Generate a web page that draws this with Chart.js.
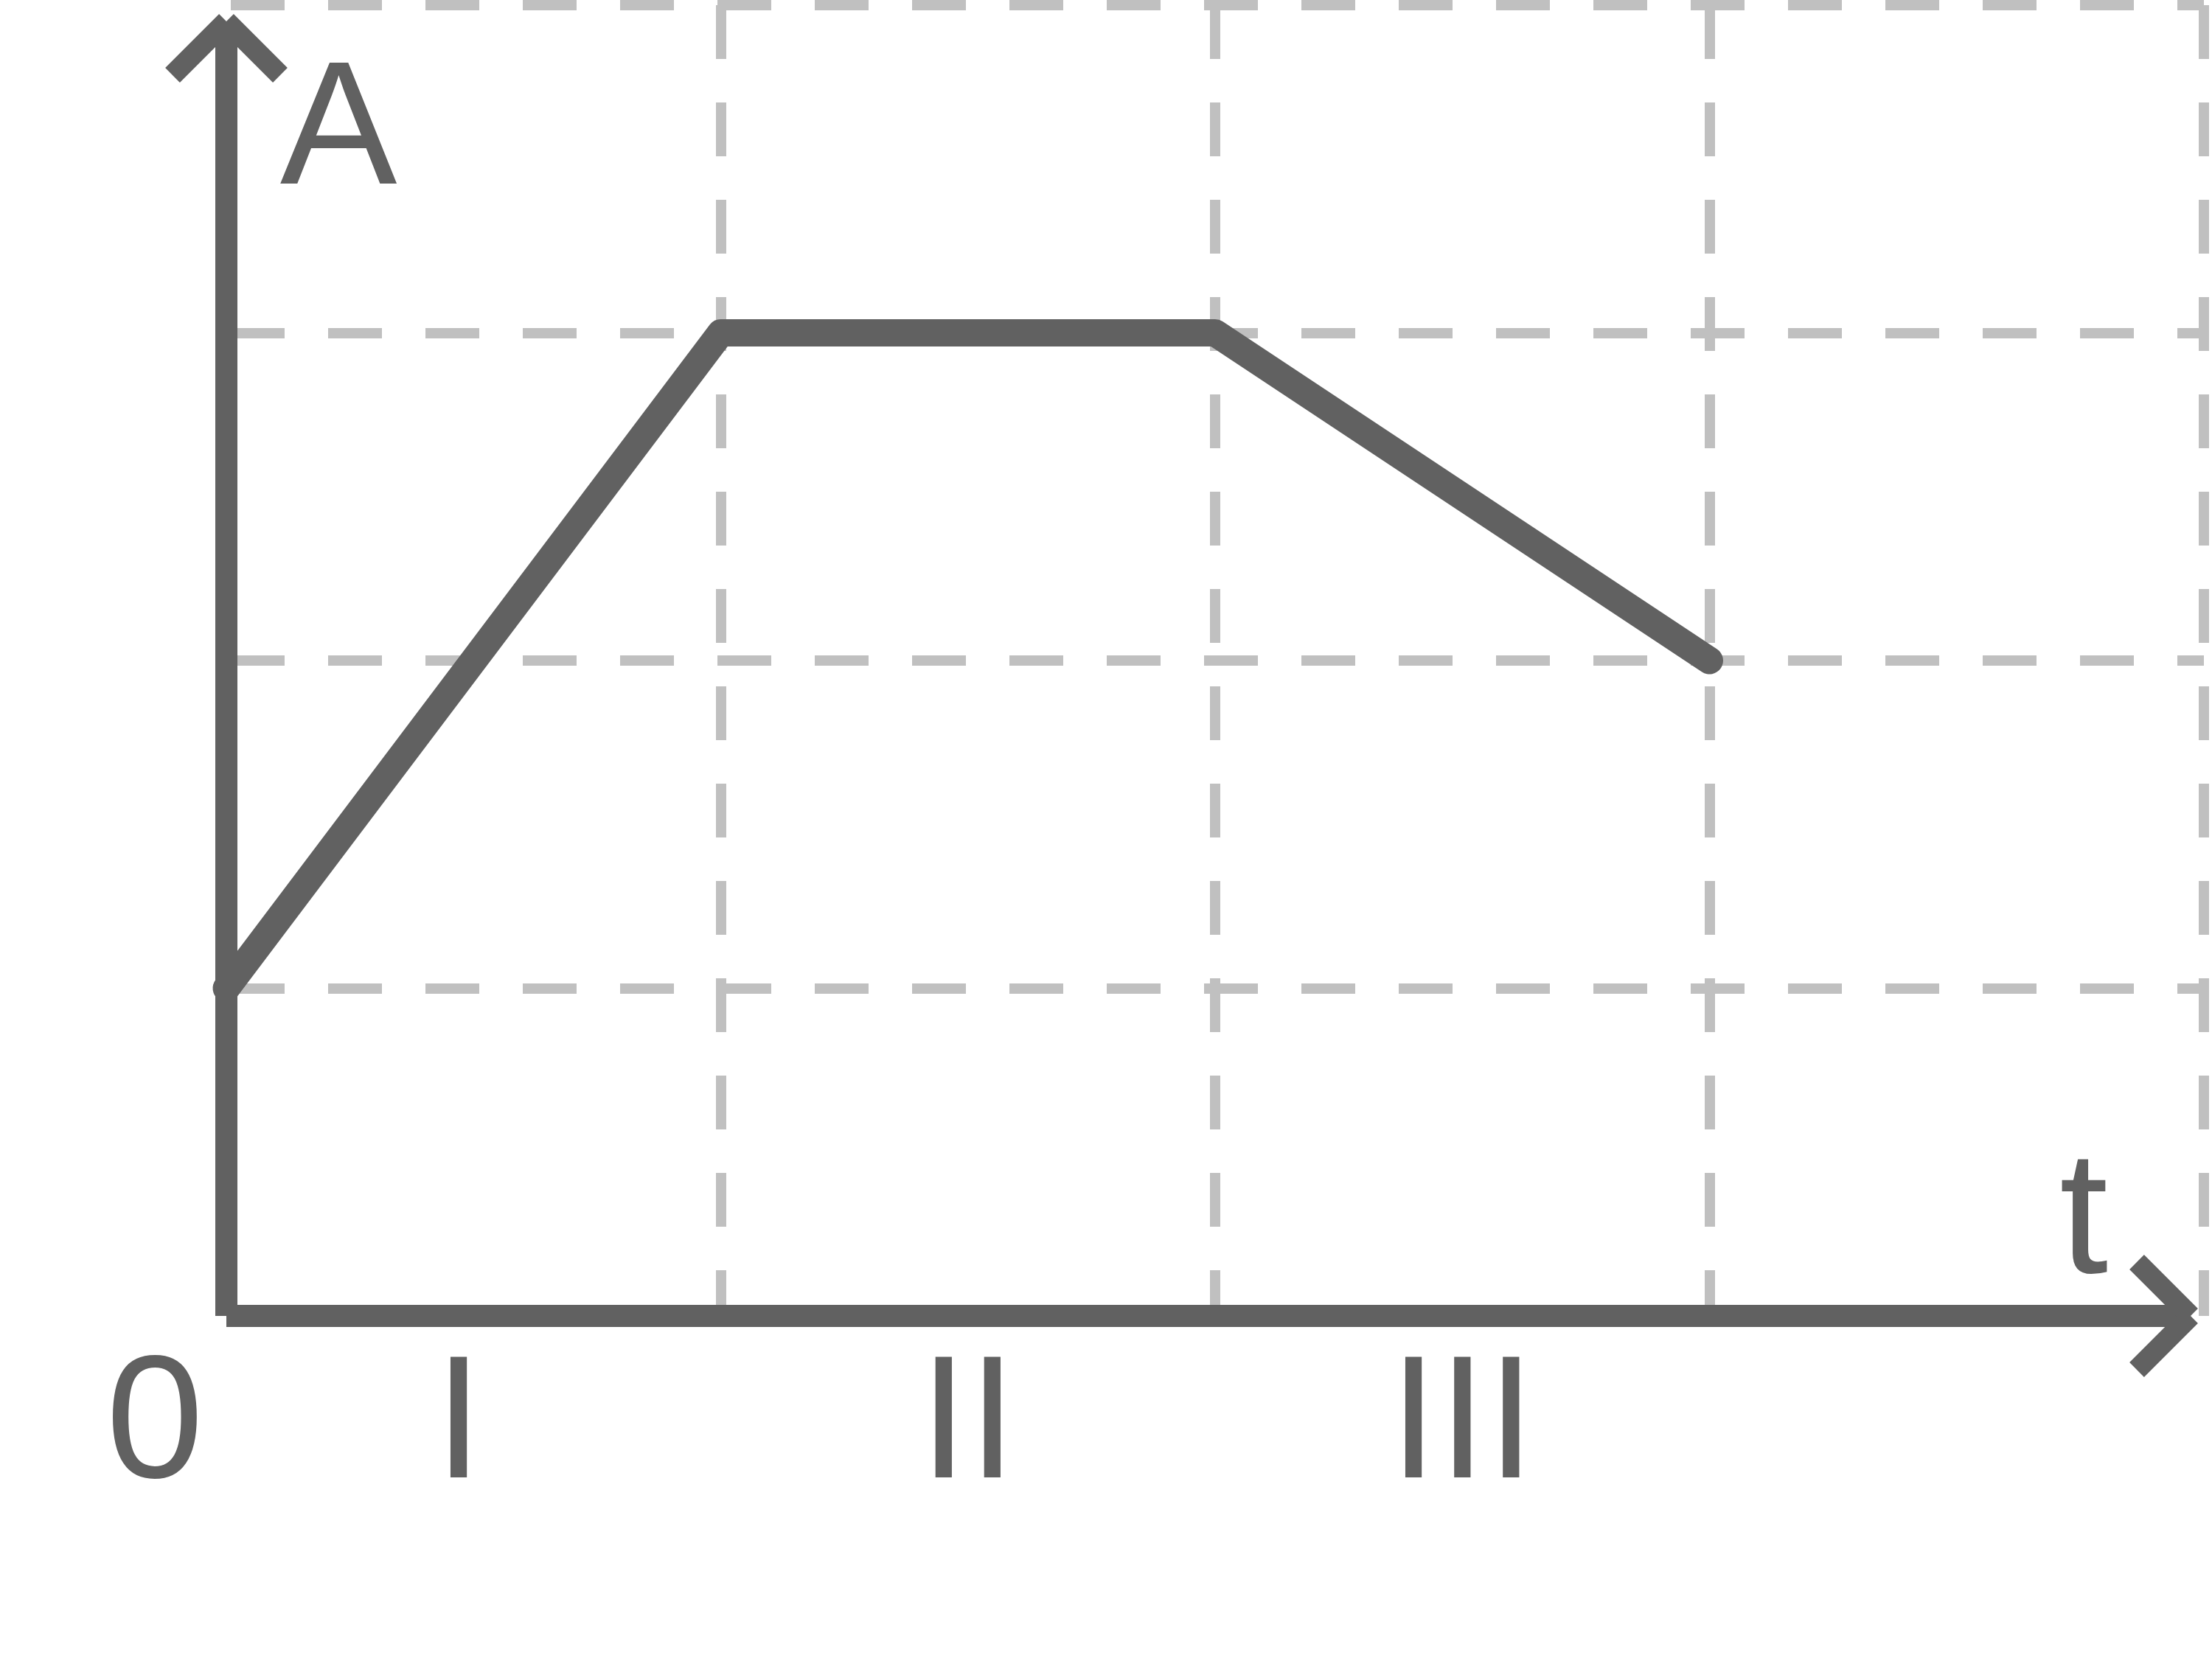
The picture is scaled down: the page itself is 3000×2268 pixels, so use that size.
<!DOCTYPE html>
<html>
<head>
<meta charset="utf-8">
<script src="https://cdn.jsdelivr.net/npm/chart.js@4/dist/chart.umd.min.js"></script>
<style>
  html, body { margin: 0; padding: 0; background: #ffffff; }
  #wrap { width: 3000px; height: 2268px; position: relative; }
</style>
</head>
<body>
<div id="wrap"><canvas id="chart"></canvas></div>
<script>
// data
var tValues = [0, 1, 2, 3];
var aValues = [1, 3, 3, 2];
var stageLabels = ["I", "II", "III"];
var stageCenters = [0.47, 1.5, 2.5];
var xTicks = [0, 1, 2, 3, 4];
var yTicks = [0, 1, 2, 3, 4];

var gris = "#616161";
var grisClaro = "#c0c0c0";
var fuente = "238px 'Liberation Sans', Arial, sans-serif";

// ejes con flechas y textos
var ejes = {
	id: "ejes",
	afterDatasetsDraw: function(chart){
		var c = chart.ctx;
		var sx = chart.scales.x, sy = chart.scales.y;
		var x0 = sx.getPixelForValue(0);
		var y0 = sy.getPixelForValue(0);
		var topY = 29;
		var rightX = 2971;
		var brazo = 73;
		c.save();
		c.strokeStyle = gris;
		c.lineCap = "butt";
		c.lineWidth = 30;
		c.beginPath();
		c.moveTo(x0, y0);
		c.lineTo(x0, topY);
		c.moveTo(x0, y0);
		c.lineTo(rightX, y0);
		c.stroke();
		// flechas: cada brazo es un trazo suelto
		c.lineWidth = 28;
		c.beginPath();
		c.moveTo(x0 - brazo, topY + brazo);
		c.lineTo(x0, topY);
		c.moveTo(x0 + brazo, topY + brazo);
		c.lineTo(x0, topY);
		c.moveTo(rightX - brazo, y0 - brazo);
		c.lineTo(rightX, y0);
		c.moveTo(rightX - brazo, y0 + brazo);
		c.lineTo(rightX, y0);
		c.stroke();

		c.fillStyle = gris;
		c.font = fuente;
		c.textAlign = "center";
		c.textBaseline = "alphabetic";
		c.fillText("A", x0 + 152, sy.top + 242);
		c.fillText("t", rightX - 145, y0 - 59);
		c.fillText("0", x0 - 97, y0 + 219);
		for (var i = 0; i < stageLabels.length; i++) {
			c.fillText(stageLabels[i], sx.getPixelForValue(stageCenters[i]), y0 + 219);
		}
		c.restore();
	}
};

function colorRejilla(c){
	return c.tick && c.tick.value === 0 ? "rgba(0,0,0,0)" : grisClaro;
}

var ctx = document.getElementById("chart").getContext("2d");
var chart = new Chart(ctx, {
	type: "line",
	data: {
		datasets: [
			{
				data: tValues.map(function(t, i){ return {x: t, y: aValues[i]}; }),
				borderColor: gris,
				borderWidth: 37,
				borderCapStyle: "round",
				borderJoinStyle: "round",
				pointRadius: 0,
				fill: false,
				tension: 0,
				clip: false
			}
		]
	},
	options: {
		responsive: true,
		maintainAspectRatio: false,
		devicePixelRatio: 1,
		animation: false,
		events: [],
		layout: {
			padding: { left: 307, right: 11, top: 7, bottom: 483 }
		},
		plugins: {
			legend: { display: false },
			tooltip: { enabled: false }
		},
		scales: {
			x: {
				type: "linear",
				min: 0,
				max: 4,
				afterBuildTicks: function(scale){ scale.ticks = xTicks.map(function(v){ return {value: v}; }); },
				ticks: { display: false },
				border: { display: false, dash: [73, 59] },
				grid: { drawTicks: false, color: colorRejilla, lineWidth: 14 }
			},
			y: {
				type: "linear",
				min: 0,
				max: 4,
				afterBuildTicks: function(scale){ scale.ticks = yTicks.map(function(v){ return {value: v}; }); },
				ticks: { display: false },
				border: { display: false, dash: [73, 59], dashOffset: -6 },
				grid: { drawTicks: false, color: colorRejilla, lineWidth: 14 }
			}
		}
	},
	plugins: [ejes]
});
</script>
</body>
</html>
